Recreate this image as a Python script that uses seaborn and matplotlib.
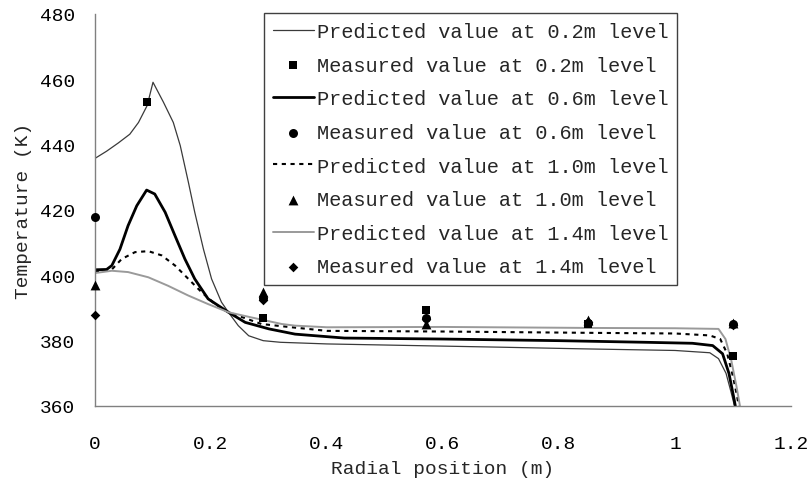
import matplotlib
matplotlib.use("Agg")
import matplotlib.pyplot as plt
import seaborn as sns
import pandas as pd

# ---- predicted curves ----
x_02 = [0, 0.02, 0.04, 0.06, 0.075, 0.09, 0.1, 0.118, 0.135, 0.147, 0.161, 0.172, 0.187,
        0.201, 0.218, 0.23, 0.247, 0.265, 0.29, 0.32, 0.4, 0.55, 0.7, 0.84, 1.0, 1.06,
        1.075, 1.088, 1.097, 1.104, 1.108]
y_02 = [435.8, 438.0, 440.5, 443.2, 446.8, 452.0, 459.1, 453.0, 446.8, 439.7, 428.5, 419.3, 408.0,
        398.9, 391.8, 388.7, 384.6, 381.5, 380.0, 379.5, 379.0, 378.5, 378.0, 377.5, 377.0, 376.3,
        374.5, 370.0, 364.0, 359.0, 356.0]

x_06 = [0, 0.02, 0.029, 0.043, 0.057, 0.072, 0.089, 0.103, 0.121, 0.138, 0.155, 0.172, 0.195,
        0.23, 0.259, 0.3, 0.345, 0.43, 0.6, 0.8, 0.95, 1.03, 1.065, 1.082, 1.093, 1.102, 1.108]
y_06 = [401.7, 401.8, 403.0, 408.0, 415.2, 421.3, 426.1, 424.9, 419.3, 412.1, 405.0, 398.9, 392.8,
        388.7, 385.6, 383.6, 382.0, 380.8, 380.5, 380.0, 379.5, 379.2, 378.5, 376.0, 370.0, 362.0, 356.0]

x_10 = [0, 0.029, 0.046, 0.069, 0.092, 0.115, 0.138, 0.161, 0.184, 0.207, 0.23, 0.287, 0.339,
        0.4, 0.6, 0.85, 1.0, 1.06, 1.078, 1.09, 1.1, 1.107, 1.112]
y_10 = [401.0, 401.8, 405.0, 407.1, 407.4, 406.1, 403.0, 398.9, 394.8, 391.2, 388.7, 385.1, 384.1,
        383.0, 382.8, 382.4, 382.2, 381.6, 380.5, 376.0, 369.0, 363.0, 358.0]

x_14 = [0, 0.029, 0.057, 0.092, 0.126, 0.161, 0.195, 0.23, 0.27, 0.322, 0.345, 0.4, 0.6, 0.85,
        1.0, 1.075, 1.087, 1.097, 1.106, 1.113]
y_14 = [400.7, 401.4, 401.0, 399.4, 396.8, 393.8, 391.2, 388.7, 387.1, 385.1, 384.6, 384.1, 384.2, 383.9,
        383.8, 383.6, 380.5, 374.0, 366.0, 359.0]

# ---- measured values ----
mx_02 = [0.09, 0.29, 0.57, 0.85, 1.1]
my_02 = [453, 387, 389.3, 385.2, 375.3]
mx_06 = [0, 0.29, 0.57, 0.85, 1.1]
my_06 = [418, 393, 387, 385.5, 385]
mx_10 = [0, 0.29, 0.57, 0.85, 1.1]
my_10 = [397, 395, 385, 386.2, 385.5]
mx_14 = [0, 0.29, 0.57, 0.85, 1.1]
my_14 = [388, 392.5, 386.5, 385.8, 384.7]

labels_pred = ["Predicted value at 0.2m level", "Predicted value at 0.6m level",
               "Predicted value at 1.0m level", "Predicted value at 1.4m level"]
labels_meas = ["Measured value at 0.2m level", "Measured value at 0.6m level",
               "Measured value at 1.0m level", "Measured value at 1.4m level"]
xticks = [0, 0.2, 0.4, 0.6, 0.8, 1.0, 1.2]
xticklabels = ["0", "0.2", "0.4", "0.6", "0.8", "1", "1.2"]
yticks = [360, 380, 400, 420, 440, 460, 480]

sns.set_style("white")
plt.rcParams['font.family'] = ['Liberation Mono', 'DejaVu Sans']

fig = plt.figure(figsize=(8.11, 4.85), dpi=100)
ax = fig.add_axes([95/811, 1 - 407/485, (791 - 95)/811, (407 - 15)/485])

preds = [(x_02, y_02), (x_06, y_06), (x_10, y_10), (x_14, y_14)]
meas = [(mx_02, my_02), (mx_06, my_06), (mx_10, my_10), (mx_14, my_14)]
line_styles = [dict(color="#3a3a3a", linewidth=0.9),
               dict(color="black", linewidth=2.0),
               dict(color="black", linewidth=1.5),
               dict(color="#9a9a9a", linewidth=1.4)]
markers = [("s", 40), ("o", 42), ("^", 50), ("D", 24)]

handles = []
for i in range(4):
    df = pd.DataFrame({"x": preds[i][0], "y": preds[i][1]})
    n_before = len(ax.lines)
    sns.lineplot(data=df, x="x", y="y", ax=ax, sort=False, label=labels_pred[i],
                 **line_styles[i])
    ln = ax.lines[n_before]
    if i == 2:
        ln.set_dashes([2.0, 2.2])
    handles.append(ln)
    dm = pd.DataFrame({"x": meas[i][0], "y": meas[i][1]})
    n_coll = len(ax.collections)
    sns.scatterplot(data=dm, x="x", y="y", ax=ax, marker=markers[i][0], s=markers[i][1],
                    color="black", edgecolor="black", linewidth=0, label=labels_meas[i],
                    zorder=5, clip_on=False)
    handles.append(ax.collections[n_coll])

if ax.get_legend() is not None:
    ax.get_legend().remove()

ax.set_xlim(0, 1.2)
ax.set_ylim(360, 480)
ax.set_xticks(xticks)
ax.set_xticklabels(xticklabels)
ax.set_yticks(yticks)
for sp in ["top", "right"]:
    ax.spines[sp].set_visible(False)
for sp in ["left", "bottom"]:
    ax.spines[sp].set_color("#808080")
    ax.spines[sp].set_linewidth(1.0)
ax.tick_params(axis="both", direction="in", length=5, width=1, color="#808080",
               labelsize=14, labelcolor="black", pad=14)
ax.tick_params(axis="x", pad=21)
ax.set_xlabel("Radial position (m)", fontsize=14, labelpad=6)
ax.set_ylabel("Temperature (K)", fontsize=14, labelpad=6)

leg = fig.legend(handles=handles, labels=[h.get_label() for h in handles],
                 loc="upper left", bbox_to_anchor=(264/811, 1 - 14/485),
                 bbox_transform=fig.transFigure, borderaxespad=0, fontsize=14.6,
                 frameon=True, fancybox=False, edgecolor="#404040", framealpha=1,
                 handlelength=2.0, handletextpad=0.15, labelspacing=0.72,
                 borderpad=0.45, numpoints=1, scatterpoints=1)
leg.get_frame().set_linewidth(1.0)

fig.savefig("out.png", dpi=100)
